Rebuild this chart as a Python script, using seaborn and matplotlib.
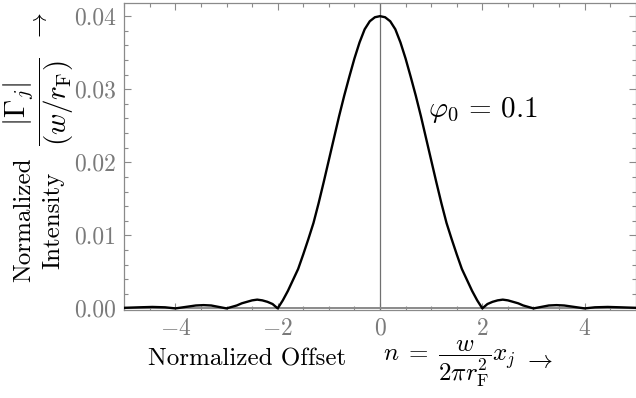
import matplotlib
matplotlib.use("Agg")
import matplotlib.pyplot as plt
import seaborn as sns
import numpy as np
import pandas as pd
from matplotlib.ticker import MultipleLocator, FixedLocator, FixedFormatter

# ---- data ----
offset_n = [-5.0, -4.7, -4.45, -4.2, -4.0, -3.9, -3.75, -3.6, -3.45, -3.3, -3.15, -3.0,
            -2.9, -2.8, -2.7, -2.6, -2.5, -2.4, -2.3, -2.2, -2.1, -2.0,
            -1.9, -1.8, -1.7, -1.6, -1.5, -1.4, -1.3, -1.2, -1.1, -1.0,
            -0.9, -0.8, -0.7, -0.6, -0.5, -0.4, -0.3, -0.2, -0.1, 0.0,
            0.1, 0.2, 0.3, 0.4, 0.5, 0.6, 0.7, 0.8, 0.9, 1.0,
            1.1, 1.2, 1.3, 1.4, 1.5, 1.6, 1.7, 1.8, 1.9, 2.0,
            2.1, 2.2, 2.3, 2.4, 2.5, 2.6, 2.7, 2.8, 2.9, 3.0,
            3.15, 3.3, 3.45, 3.6, 3.75, 3.9, 4.0, 4.2, 4.45, 4.7, 5.0]
intensity = [0.00008, 0.00015, 0.0002, 0.00015, 0.0, 0.0001, 0.00025, 0.0004, 0.00045, 0.0004, 0.0002, 0.0,
             0.0002, 0.0004, 0.0007, 0.0009, 0.0011, 0.0012, 0.0011, 0.0009, 0.0006, 0.0,
             0.0011, 0.0024, 0.0039, 0.0054, 0.0074, 0.0095, 0.0117, 0.0144, 0.0173, 0.0203,
             0.0233, 0.0263, 0.0291, 0.0317, 0.0342, 0.0364, 0.0382, 0.0393, 0.03985, 0.0400,
             0.03985, 0.0393, 0.0382, 0.0364, 0.0342, 0.0317, 0.0291, 0.0263, 0.0233, 0.0203,
             0.0173, 0.0144, 0.0117, 0.0095, 0.0074, 0.0054, 0.0039, 0.0024, 0.0011, 0.0,
             0.0006, 0.0009, 0.0011, 0.0012, 0.0011, 0.0009, 0.0007, 0.0004, 0.0002, 0.0,
             0.0002, 0.0004, 0.00045, 0.0004, 0.00025, 0.0001, 0.0, 0.00015, 0.0002, 0.00015, 0.00008]

x_ticks = [-4, -2, 0, 2, 4]
x_tick_labels = [r"$-4$", r"$-2$", r"$0$", r"$2$", r"$4$"]
y_ticks = [0.00, 0.01, 0.02, 0.03, 0.04]
y_tick_labels = ["0.00", "0.01", "0.02", "0.03", "0.04"]
annotation = r"$\varphi_0\,=\,0.1$"

df = pd.DataFrame({"n": offset_n, "I": intensity})

sns.set_theme(style="ticks")
plt.rcParams["font.family"] = ["cmr10", "DejaVu Serif"]
plt.rcParams["mathtext.fontset"] = "cm"
plt.rcParams["axes.formatter.use_mathtext"] = True

GRAY = "#8a8a8a"
FS = 17

fig = plt.figure(figsize=(6.36, 3.98), dpi=100)
W, H = 636.0, 398.0
ax = fig.add_axes([124.2 / W, 1 - 309.5 / H, 511.6 / W, 306.5 / H])

ax.axvline(0, color="#707070", lw=0.9, zorder=1)
ax.axhline(0, color=GRAY, lw=1.4, zorder=1)
sns.lineplot(data=df, x="n", y="I", color="black", lw=1.7, ax=ax, sort=False, zorder=3)

ax.set_xlim(-5, 5)
ax.set_ylim(-0.00015, 0.0418)
ax.xaxis.set_major_locator(FixedLocator(x_ticks))
ax.xaxis.set_major_formatter(FixedFormatter(x_tick_labels))
ax.xaxis.set_minor_locator(MultipleLocator(0.5))
ax.yaxis.set_major_locator(FixedLocator(y_ticks))
ax.yaxis.set_major_formatter(FixedFormatter(y_tick_labels))
ax.yaxis.set_minor_locator(MultipleLocator(0.002))

for s in ax.spines.values():
    s.set_color(GRAY)
    s.set_linewidth(0.9)
ax.tick_params(which="both", direction="in", top=True, right=True, colors=GRAY,
               labelcolor="#7a7a7a", labelsize=FS, width=0.8)
ax.tick_params(which="major", length=5, pad=6)
ax.tick_params(which="minor", length=3)
ax.set_xlabel("")
ax.set_ylabel("")

ax.text(0.93, 0.0262, annotation, fontsize=21, color="black", ha="left", va="baseline")

def px(x, y):
    return x / W, 1 - y / H

# x label pieces
fig.text(*px(148, 366), "Normalized Offset", fontsize=18, ha="left", va="baseline", color="black")
fig.text(*px(383, 364), r"$n\;=\;\dfrac{w}{2\pi r_{\mathrm{F}}^{2}}x_j$", fontsize=18,
         ha="left", va="center", color="black")
fig.text(*px(538, 361), r"$\rightarrow$", fontsize=18, ha="center", va="center", color="black")

# y label pieces
fig.text(*px(39, 220), "Normalized\nIntensity", fontsize=18, rotation=90, ha="center", va="center",
         multialignment="center", linespacing=1.4, color="black")
fig.text(*px(39, 102), r"$\dfrac{|\Gamma_j|}{(w/r_{\mathrm{F}})}$", fontsize=21, rotation=90,
         ha="center", va="center", color="black")
fig.text(*px(40, 27), r"$\rightarrow$", fontsize=18, rotation=90, ha="center", va="center", color="black")

fig.savefig("out.png", dpi=100)
